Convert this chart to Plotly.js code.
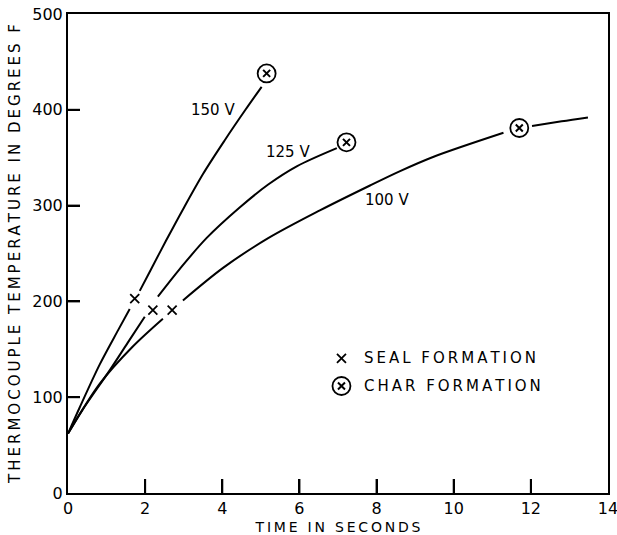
<!DOCTYPE html>
<html>
<head>
<meta charset="utf-8">
<script src="https://cdn.plot.ly/plotly-3.0.1.min.js"></script>
<style>
html,body{margin:0;padding:0;background:#fff;}
#plot{width:617px;height:535px;}
</style>
</head>
<body>
<div id="plot"></div>
<script>
// ---- data ----
const time150 = [0, 0.30, 0.82, 1.30, 1.60, null, 1.86, 2.12, 2.55, 2.98, 3.50, 4.06, 4.60, 5.02];
const temp150 = [62, 89, 134, 170, 192, null, 211, 231, 264, 296, 333, 368, 400, 424];

const time125 = [0, 0.38, 1.08, 1.55, 1.99, null, 2.33, 2.90, 3.59, 4.45, 5.19, 5.93, 6.97];
const temp125 = [62, 87, 128, 157, 184, null, 205, 234, 266, 298, 322, 341, 360];

const time100 = [0, 0.82, 1.68, 2.46, null, 2.98, 4.02, 5.19, 6.53, 7.83, 8.61, 9.48, 11.29, null, 12.03, 12.80, 13.48];
const temp100 = [62, 114, 153, 182, null, 201, 235, 266, 295, 321, 336, 351, 376, null, 383, 388, 392];

const sealTime = [1.73, 2.20, 2.70];
const sealTemp = [203, 191, 191];

const charTime = [5.15, 7.22, 11.70];
const charTemp = [438, 366, 381];

const curveLabels = ["150 V", "125 V", "100 V"];
const curveLabelX = [3.77, 5.70, 8.26];
const curveLabelY = [400, 356, 306];

const legendLabels = ["SEAL FORMATION", "CHAR FORMATION"];
const xTitle = "TIME IN SECONDS";
const yTitle = "THERMOCOUPLE TEMPERATURE IN DEGREES F";

const xTicks = [0, 2, 4, 6, 8, 10, 12, 14];
const yTicks = [0, 100, 200, 300, 400, 500];

// ---- chart ----
const FONT = "DejaVu Sans";
const W = 617, H = 535, M = {l: 68, r: 9, t: 14, b: 42};
const X_RANGE = [0, 14], Y_RANGE = [0, 500];
const lineStyle = {color: "#000", width: 2, shape: "spline", smoothing: 0.9};

// widen lettering with thin spaces (no DOM post-processing)
const spaced = s => s.split("").join("\u2009");

// inward tick marks (lengths in pixels converted to axis units)
const plotW = W - M.l - M.r, plotH = H - M.t - M.b;
const xTickLen = 14 * (Y_RANGE[1] - Y_RANGE[0]) / plotH;
const yTickLen = 12 * (X_RANGE[1] - X_RANGE[0]) / plotW;
const tickX = [], tickY = [];
xTicks.slice(1, -1).forEach(v => { tickX.push(v, v, null); tickY.push(Y_RANGE[0], Y_RANGE[0] + xTickLen, null); });
yTicks.slice(1, -1).forEach(v => { tickX.push(X_RANGE[0], X_RANGE[0] + yTickLen, null); tickY.push(v, v, null); });

// legend key positions (layout, in axis units)
const legX = 7.09, legTextX = 7.62, legY = [140.6, 111.7];

const traces = [
  {x: tickX, y: tickY, mode: "lines", line: {color: "#000", width: 2}, connectgaps: false, cliponaxis: false},
  {x: time150, y: temp150, mode: "lines", line: lineStyle, connectgaps: false},
  {x: time125, y: temp125, mode: "lines", line: lineStyle, connectgaps: false},
  {x: time100, y: temp100, mode: "lines", line: lineStyle, connectgaps: false},
  {x: sealTime, y: sealTemp, mode: "markers",
   marker: {symbol: "x-thin-open", size: 9, color: "#000", line: {color: "#000", width: 1.8}}},
  {x: charTime, y: charTemp, mode: "markers",
   marker: {symbol: "circle-open", size: 18, color: "#000", line: {color: "#000", width: 1.8}}},
  {x: charTime, y: charTemp, mode: "markers",
   marker: {symbol: "x-thin-open", size: 7, color: "#000", line: {color: "#000", width: 2}}},
  // legend keys
  {x: [legX], y: [legY[0]], mode: "markers",
   marker: {symbol: "x-thin-open", size: 9, color: "#000", line: {color: "#000", width: 1.8}}},
  {x: [legX], y: [legY[1]], mode: "markers",
   marker: {symbol: "circle-open", size: 18, color: "#000", line: {color: "#000", width: 1.8}}},
  {x: [legX], y: [legY[1]], mode: "markers",
   marker: {symbol: "x-thin-open", size: 7, color: "#000", line: {color: "#000", width: 2}}}
];

const annotations = curveLabels.map((t, i) => ({
  x: curveLabelX[i], y: curveLabelY[i], xref: "x", yref: "y",
  text: t, showarrow: false, xanchor: "center", yanchor: "middle",
  font: {family: FONT, size: 15, color: "#000"}
}));
legendLabels.forEach((t, i) => annotations.push({
  x: legTextX, y: legY[i], xref: "x", yref: "y", text: spaced(t), showarrow: false,
  xanchor: "left", yanchor: "middle", font: {family: FONT, size: 15, color: "#000"}
}));

const layout = {
  width: W, height: H,
  margin: M,
  showlegend: false,
  xaxis: {
    range: X_RANGE, tickvals: xTicks, ticks: "inside", ticklen: 14, tickwidth: 2, tickcolor: "#000",
    showline: true, mirror: true, linecolor: "#000", linewidth: 2, showgrid: false, zeroline: false,
    ticklabeloverflow: "allow",
    tickfont: {family: FONT, size: 16, color: "#000"},
    title: {text: spaced(xTitle), font: {family: FONT, size: 14, color: "#000"}, standoff: 6}
  },
  yaxis: {
    range: Y_RANGE, tickvals: yTicks, ticks: "inside", ticklen: 12, tickwidth: 2, tickcolor: "#000",
    showline: true, mirror: true, linecolor: "#000", linewidth: 2, showgrid: false, zeroline: false,
    tickfont: {family: FONT, size: 16, color: "#000"},
    title: {text: spaced(yTitle), font: {family: FONT, size: 15, color: "#000"}, standoff: 8}
  },
  annotations: annotations
};

Plotly.newPlot(document.getElementById("plot"), traces, layout, {staticPlot: true});
</script>
</body>
</html>
